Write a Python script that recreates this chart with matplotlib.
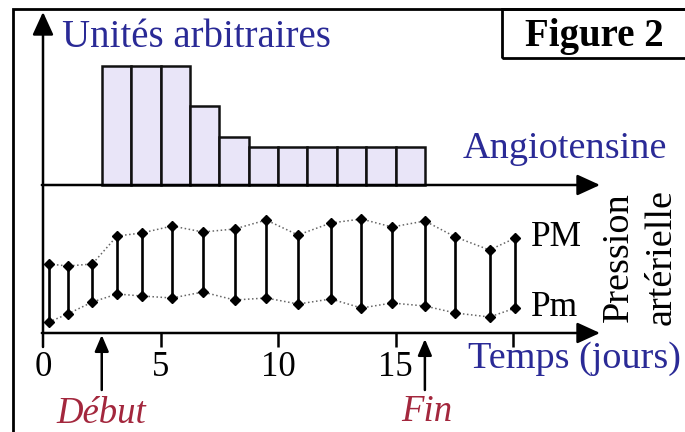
import numpy as np
import matplotlib
matplotlib.use("Agg")
import matplotlib.pyplot as plt
from matplotlib.patches import Rectangle

plt.rcParams['font.family'] = ['Liberation Serif', 'DejaVu Serif']

# Angiotensine perfusion (arbitrary units), bars of 1.25 day starting at day 2.5
bar_start = [2.5, 3.75, 5.0, 6.25, 7.5, 8.75, 10.0, 11.25, 12.5, 13.75, 15.0]
bar_width = 1.25
angiotensine = [10, 10, 10, 6.6, 4.0, 3.2, 3.2, 3.2, 3.2, 3.2, 3.2]

# Blood pressure measurements (arbitrary units)
days = [0.25, 1.05, 2.1, 3.15, 4.2, 5.5, 6.8, 8.15, 9.5, 10.85, 12.25,
        13.55, 14.85, 16.25, 17.55, 19.0, 20.1]
pm_max = [69, 67, 69, 97, 100, 107, 101, 104, 113, 98, 110,
          114, 106, 112, 96, 83, 95]
pm_min = [11, 19, 31, 39, 37, 35, 41, 33, 35, 29, 34,
          25, 30, 27, 20, 16, 25]

tick_days = [5, 10, 15, 20]
tick_labels = ['0', '5', '10', '15']
debut, fin = 2.5, 16.25

blue = '#2a2a96'
red = '#a3273d'
W, H = 685, 432


def fpos(x, y):
    # pixel position (from top-left) -> figure fraction
    return x / W, 1 - y / H


fig = plt.figure(figsize=(W / 100, H / 100), dpi=100)
xlim = (-43 / 23.5, (W - 43) / 23.5)

# upper panel: angiotensine, zero line at 185 px, 11.9 px per unit
ax_top = fig.add_axes([0, 0, 1, 1])
ax_top.set_xlim(*xlim)
ax_top.set_ylim(-(H - 185) / 11.9, 185 / 11.9)
ax_top.axis('off')
ax_top.patch.set_alpha(0)

# lower panel: pressure, zero line at 333 px, 1 px per unit
ax_bot = fig.add_axes([0, 0, 1, 1])
ax_bot.set_xlim(*xlim)
ax_bot.set_ylim(-(H - 333), 333)
ax_bot.axis('off')
ax_bot.patch.set_alpha(0)

ax_top.bar(bar_start, angiotensine, width=bar_width, align='edge',
           color='#e9e5f8', edgecolor='#111111', linewidth=1.8, zorder=2)

arrow = dict(arrowstyle='-|>,head_length=0.7,head_width=0.32',
             color='black', lw=1.8, mutation_scale=20, shrinkA=0, shrinkB=0)
x_tip = (600 - 43) / 23.5
ax_top.annotate('', xy=(x_tip, 0), xytext=(-0.05, 0), arrowprops=arrow)
ax_bot.annotate('', xy=(x_tip, 0), xytext=(-0.05, 0), arrowprops=arrow)
ax_bot.annotate('', xy=(0, 333 - 12), xytext=(0, -14), arrowprops=arrow)
ax_bot.vlines(tick_days, -14, 0, color='black', lw=1.8)

# pressure: dotted envelopes, vertical bars and diamonds
ax_bot.plot(days, pm_max, ls=':', color='#666666', lw=1.1, zorder=2)
ax_bot.plot(days, pm_min, ls=':', color='#666666', lw=1.1, zorder=2)
ax_bot.vlines(days, pm_min, pm_max, color='black', lw=1.9, zorder=3)
ax_bot.plot(days, pm_max, 'D', color='black', ms=5, zorder=4)
ax_bot.plot(days, pm_min, 'D', color='black', ms=5, zorder=4)

for d, lab in zip([0] + tick_days[:3], tick_labels):
    ax_bot.text(d, -35, lab, ha='center', va='center', fontsize=25)

small_arrow = dict(arrowstyle='-|>,head_length=0.7,head_width=0.3',
                   color='black', lw=1.8, mutation_scale=14, shrinkA=0, shrinkB=0)
ax_bot.annotate('', xy=(debut, -2), xytext=(debut, -57), arrowprops=small_arrow)
ax_bot.annotate('', xy=(fin, -6), xytext=(fin, -57), arrowprops=small_arrow)
ax_bot.text(debut, -81, 'Début', ha='center', va='center', fontsize=26.5,
            style='italic', color=red)
ax_bot.text(fin + 0.1, -79, 'Fin', ha='center', va='center', fontsize=26.5,
            style='italic', color=red)

# labels
fig.text(*fpos(62, 47), 'Unités arbitraires', fontsize=28, color=blue,
         va='baseline')
fig.text(*fpos(463, 158), 'Angiotensine', fontsize=27.5, color=blue,
         va='baseline')
fig.text(*fpos(468, 359), 'Temps (jours)', fontsize=27.5, color=blue,
         va='center')
fig.text(*fpos(531, 238), 'PM', fontsize=25.5, va='center')
fig.text(*fpos(531, 308), 'Pm', fontsize=25.5, va='center')
fig.text(*fpos(640, 257), 'Pression\nartérielle', fontsize=27.5, rotation=90,
         ha='center', va='center', ma='center', linespacing=1.3)
fig.text(*fpos(525, 46), 'Figure 2', fontsize=28, fontweight='bold',
         va='baseline')

# frame and title box
fig.patches.append(Rectangle(fpos(13, 440), (W + 10 - 13) / W, 431 / H,
                             transform=fig.transFigure, fill=False,
                             lw=2, ec='black'))
fig.patches.append(Rectangle(fpos(502, 58), (W + 10 - 502) / W, 49 / H,
                             transform=fig.transFigure, fill=False,
                             lw=2, ec='black'))

fig.savefig('out.png', dpi=100)
